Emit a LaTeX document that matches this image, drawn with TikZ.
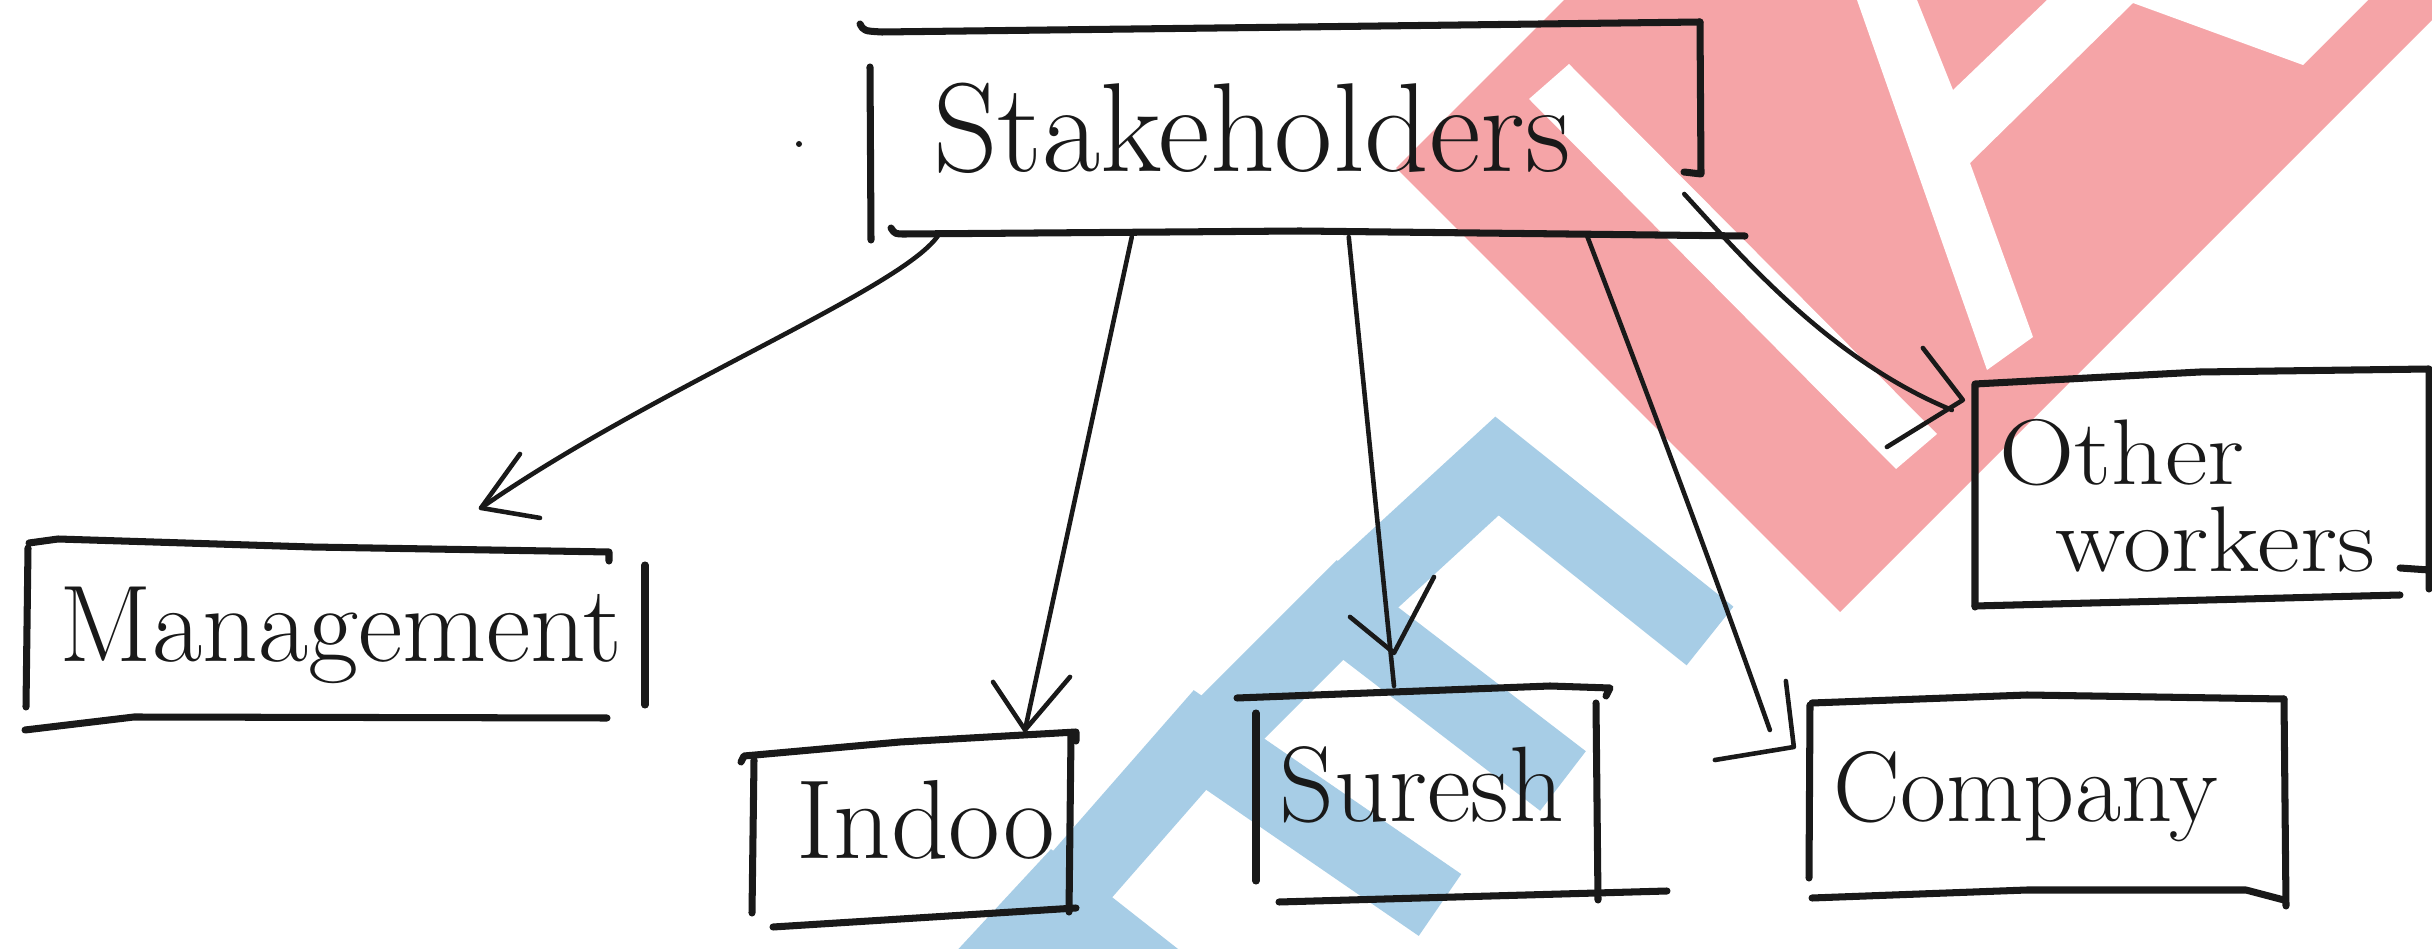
\documentclass[tikz,border=0pt]{standalone}
\usepackage{fontspec}
\usetikzlibrary{calc}
\definecolor{wmred}{RGB}{245,164,167}
\definecolor{wmblue}{RGB}{167,205,230}
\tikzset{
  pen/.style={line width=2pt, line cap=round, line join=round, draw=black!90},
  arrowpen/.style={line width=1.3pt, line cap=round, line join=round, draw=black!90},
  boxarea/.style={draw=none, inner sep=0pt, outer sep=0pt},
  hand/.style={inner sep=0pt, anchor=base, text=black!90, font=\fontsize{#1}{#1}\selectfont},
  band/.style={draw=wmblue, line width=0.75cm, line join=miter, line cap=butt},
}
\begin{document}
\begin{tikzpicture}[x=0.01cm, y=-0.01cm]
\fill[white] (0,0) rectangle (2432,949);
\path[use as bounding box] (0,0) rectangle (2432,949);

% background logo marks
\begin{scope}
  \clip (0,0) rectangle (2432,949);
  \fill[wmred] (1396,168) -- (1564,0) -- (2432,0) -- (2432,20) -- (1840,612) -- cycle;
  \fill[white] (1529,99) -- (1569,64) -- (1937,434) -- (1896,469) -- cycle;
  \fill[white] (1857,0) -- (1917,0) -- (1953,90) -- (2047,0) -- (2368,0) -- (2303,65)
               -- (2133,3) -- (1970,163) -- (2033,337) -- (1987,370) -- cycle;
  \draw[band] (1340,610) -- (1497,466) -- (1710,636);
  \draw[band] (1200,750) -- (1340,610) -- (1563,781);
  \draw[band] (1060,900) -- (1200,740) -- (1440,905);
  \draw[band] (865,1105) -- (1055,900) -- (1275,1073);
\end{scope}

% box areas
\node[boxarea, minimum width=8.30cm, minimum height=2.18cm] (sh) at (1285,131) {};
\node[boxarea, minimum width=6.18cm, minimum height=1.87cm] (mg) at (336,636) {};
\node[boxarea, minimum width=3.22cm, minimum height=1.95cm] (in) at (915,830) {};
\node[boxarea, minimum width=3.42cm, minimum height=2.16cm] (su) at (1427,794) {};
\node[boxarea, minimum width=4.76cm, minimum height=2.01cm] (co) at (2048,799.5) {};
\node[boxarea, minimum width=4.54cm, minimum height=2.38cm] (ow) at (2202,488) {};

% labels
\node[hand=36] (sh-t) at (1252,172) {Stakeholders};
\node[hand=31] (mg-t) at (341,662) {Management};
\node[hand=32] (in-t) at (926,858) {Indoo};
\node[hand=30.5] (su-t) at (1422,822) {Suresh};
\node[hand=28.5] (co-t) at (2026,822) {Company};
\node[inner sep=0pt, anchor=base west, align=left, text=black!90,
      font=\fontsize{26.5}{25}\selectfont] (ow-t) at (1999,572)
  {\scalebox{1.12}[1]{Other}\\\hspace*{0.56cm}\scalebox{1.13}[1]{workers}};

% hand-drawn box outlines
\draw[pen] (860,24) .. controls (864,31) .. (882,32) -- (1300,27) -- (1700,22);
\draw[pen] (1700,22) -- (1701,174) -- (1684,172);
\draw[pen] (870,67) -- (871,240);
\draw[pen] (891,228) .. controls (895,234) .. (905,234) -- (1300,231) -- (1745,236);

\draw[pen] (29,543) -- (58,539) -- (312,547) -- (609,552) -- (609,561);
\draw[pen] (28,548) -- (26,707);
\draw[pen] (645,565) -- (645,705);
\draw[pen] (25,730) -- (134,717) -- (607,718);

\draw[pen] (741,762) -- (744,756) -- (900,742) -- (1076,732) -- (1076,741);
\draw[pen] (754,760) -- (752,913);
\draw[pen] (1071,736) -- (1069,912);
\draw[pen] (773,927) -- (1076,908);

\draw[pen] (1237,698) -- (1550,686) -- (1610,688) -- (1606,696);
\draw[pen] (1256,713) -- (1256,881);
\draw[pen] (1596,703) -- (1598,900);
\draw[pen] (1279,902) -- (1667,891);

\draw[pen] (1812,703) -- (2027,695) -- (2284,699);
\draw[pen] (1810,705) -- (1809,878);
\draw[pen] (2284,699) -- (2286,906);
\draw[pen] (1812,898) -- (2027,890) -- (2246,890) -- (2284,900);

\draw[pen] (1975,607) -- (1975,384) -- (2200,372) -- (2429,369) -- (2429,589);
\draw[pen] (2400,568) -- (2429,570);
\draw[pen] (1975,606) -- (2400,595);

% stray dot
\fill[black!90] (799,144) circle[radius=3];

% connectors
\coordinate (a1s) at ($(sh.south west)+(68,-4)$);
\coordinate (a1e) at ($(mg.north)+(145,-34.5)$);
\draw[arrowpen] (a1s) .. controls +(-38,54) and +(169,-118) .. (a1e);
\draw[arrowpen] ($(a1e)+(39,-54)$) -- (a1e) -- ($(a1e)+(59,10)$);

\coordinate (a2s) at ($(sh.south west)+(262,-3)$);
\coordinate (a2e) at ($(in.north)+(110,-2.5)$);
\draw[arrowpen] (a2s) -- (a2e);
\draw[arrowpen] ($(a2e)+(-32,-48)$) -- (a2e) -- ($(a2e)+(45,-53)$);

\coordinate (a3s) at ($(sh.south west)+(479,-3)$);
\coordinate (a3e) at ($(su.north)+(-33,0)$);
\coordinate (a3h) at ($(su.north)+(-33,-33)$);
\draw[arrowpen] (a3s) -- (a3e);
\draw[arrowpen] ($(a3h)+(-44,-36)$) -- (a3h) -- ($(a3h)+(40,-76)$);

\coordinate (a4s) at ($(sh.south west)+(717,-5)$);
\coordinate (a4h) at ($(co.west)+(-16,-52.5)$);
\coordinate (a4e) at ($(a4h)+(-24,-17)$);
\draw[arrowpen] (a4s) .. controls +(63,165) and +(-60,-170) .. (a4e);
\draw[arrowpen] ($(a4h)+(-8,-66)$) -- (a4h) -- ($(a4h)+(-79,13)$);

\coordinate (a5s) at ($(sh.east)+(-16,63)$);
\coordinate (a5h) at ($(ow.west)+(-12,-88)$);
\coordinate (a5e) at ($(a5h)+(-11,10)$);
\draw[arrowpen] (a5s) .. controls +(56,61) and +(-122,-50) .. (a5e);
\draw[arrowpen] ($(a5h)+(-40,-52)$) -- (a5h) -- ($(a5h)+(-76,47)$);
\end{tikzpicture}
\end{document}
